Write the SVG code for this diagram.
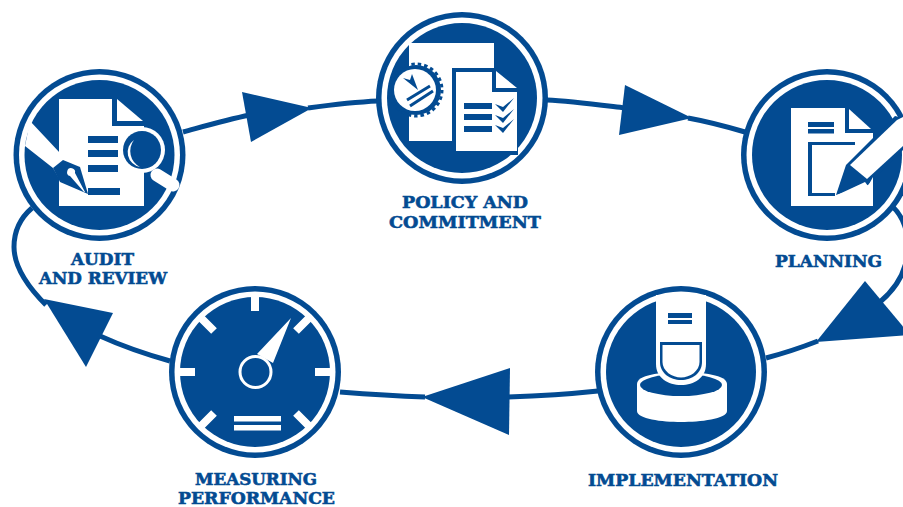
<svg xmlns="http://www.w3.org/2000/svg" width="903" height="507" viewBox="0 0 903 507">
<style>
.l{font-family:"DejaVu Serif","Liberation Serif",serif;font-weight:bold;font-size:17px;fill:#034b92;stroke:#034b92;stroke-width:.6;text-anchor:middle}
.b{fill:#034b92}.w{fill:#fff}
.c{fill:none;stroke:#034b92;stroke-width:5}
.ws{fill:none;stroke:#fff}
</style>
<defs>
<g id="ring"><circle r="86" class="b"/><circle r="80.5" class="w"/><circle r="75" class="b"/></g>
</defs>
<rect width="903" height="507" fill="#fff"/>
<g id="connectors">
<path class="c" d="M183,132C205,126 225,120 250,115M308,108C330,105 355,102 378,101"/>
<polygon class="b" points="242,92 312,108 251,142"/>
<path class="c" d="M547,100C570,101 600,105 625,108M688,118C710,122 728,127 745,132"/>
<polygon class="b" points="625,85 692,118 619,135"/>
<path class="c" d="M893,207C912,225 918,270 880,302"/>
<path class="c" d="M818,341C800,348 785,353 766,358"/>
<polygon class="b" points="865,281 910,335 816,342"/>
<path class="c" d="M598,391C570,394 540,396 505,397M425,397C395,396 365,394 340,392"/>
<polygon class="b" points="510,368 509,435 422,397"/>
<path class="c" d="M170,361C145,354 122,346 100,336"/>
<polygon class="b" points="113,313 86,367 44,299"/>
<path class="c" d="M32,208C18,220 14,235 14,247C14,265 27,286 46,305"/>
</g>
<g id="audit" transform="translate(99.5,155)">
<use href="#ring"/>
<g transform="translate(-99.5,-155)">
<polygon class="w" points="59,99 112,99 112,126 144,126 144,206 59,206"/>
<polygon class="w" points="117,99 143,121 117,121"/>
<path class="b" d="M88,136h30v7h-30zM88,150h30v7h-30zM88,165h30v7h-30zM88,188h32v7h-32z"/>
<polygon class="w" points="30,121 60,153 60,180 53,168 25,146"/>
<path class="ws" stroke-width="13" stroke-linecap="round" d="M157,175L173,185"/>
<circle cx="142" cy="150" r="23" class="w"/>
<circle cx="142" cy="150" r="19" class="b"/>
<path class="w" d="M134,140A15,15 0 0 0 140,167A18,18 0 0 1 134,140Z"/>
<polygon class="b" points="63,160 80,167 88,194 60,182 53,168"/>
<path class="w" d="M70,176a4,4 0 1 1 5,-3l10,19l-1,0Z"/>
</g>
</g>
<g id="policy" transform="translate(462,98)">
<use href="#ring"/>
<g transform="translate(-462,-98)">
<rect x="409" y="43" width="85" height="98" class="w"/>
<polygon class="b" points="452,68 494,68 494,88 518,88 518,155 452,155"/>
<polygon class="w" points="456,72 492,72 492,92 517,92 517,151 456,151"/>
<polygon class="w" points="496,71 517,88 496,88"/>
<path class="b" d="M464,103h28v6h-28zM464,114h28v6h-28zM464,126h28v6h-28z"/>
<polygon class="b" points="495,104 503,107 514,98 503,112"/>
<polygon class="b" points="495,115 503,118 514,109 503,123"/>
<polygon class="b" points="495,125 503,128 514,119 503,133"/>
<circle cx="416" cy="90" r="25" class="b"/>
<circle cx="416" cy="90" r="26" fill="none" stroke="#034b92" stroke-width="3" stroke-dasharray="3.500 3"/>
<circle cx="415" cy="90" r="21" class="w"/>
<polygon class="b" points="403,78 410,80 412,74 418,90"/>
<path stroke="#034b92" stroke-width="3" d="M407,100L430,86M410,106L433,91"/>
</g>
</g>
<g id="planning" transform="translate(827,155)">
<use href="#ring"/>
<g transform="translate(-827,-155)">
<polygon class="w" points="791,108 845,108 845,133 873,133 873,206 791,206"/>
<polygon class="w" points="849,109 871,129 849,129"/>
<path class="b" d="M808,122h26v5h-26zM808,129h26v4.500h-26zM808,142h47v3h-47zM808,142h4v54h-4zM808,193h27v3h-27z"/>
<polygon class="b" points="836,195 846,165 895,116 903,118 903,150 868,185"/>
<polygon class="w" points="850,165 897,120 903,117 903,146 867,179"/>
<polygon class="w" points="837,195 865,182 868,186 873,177 873,192 840,196"/>
</g>
</g>
<g id="implementation" transform="translate(681,372)">
<use href="#ring"/>
<g transform="translate(-681,-372)">
<path class="w" d="M637,384C637,375 660,372 681,372S727,375 727,384V411C727,419 700,422 681,422S637,419 637,411Z"/>
<ellipse cx="681" cy="385" rx="41" ry="11" class="b"/>
<path class="w" d="M656,295H706V364C706,378 694,385 681,385S656,378 656,364Z"/>
<path class="b" d="M660,342H702V362C702,373 692,380 681,380S660,373 660,362Z"/>
<path class="w" d="M662.500,345H699.500V362C699.500,371 690,377.500 681,377.500S662.500,371 662.500,362Z"/>
<path class="b" d="M668,313h24v5h-24zM668,320h24v4h-24z"/>
</g>
</g>
<g id="measuring" transform="translate(255,372)">
<use href="#ring"/>
<g transform="translate(-255,-372)">
<path class="w" d="M251,295h8v16h-8zM179,368h16v8h-16zM315,368h16v8h-16z"/>
<path class="ws" stroke-width="8" d="M201,318L214,331M309,318L296,331M201,426L214,413M309,426L296,413"/>
<polygon class="w" points="291,318 273,363 257,354"/>
<circle cx="255.500" cy="372" r="15.500" class="b" stroke="#fff" stroke-width="3"/>
<path class="w" d="M234,416h47v5.500h-47zM234,425h47v5.500h-47z"/>
</g>
</g>
<g id="labels">
<text class="l" x="465" y="208" textLength="126" lengthAdjust="spacingAndGlyphs">POLICY AND</text>
<text class="l" x="465" y="228" textLength="152" lengthAdjust="spacingAndGlyphs">COMMITMENT</text>
<text class="l" x="828.500" y="267" textLength="107" lengthAdjust="spacingAndGlyphs">PLANNING</text>
<text class="l" x="102.500" y="265" textLength="63" lengthAdjust="spacingAndGlyphs">AUDIT</text>
<text class="l" x="103" y="284" textLength="128" lengthAdjust="spacingAndGlyphs">AND REVIEW</text>
<text class="l" x="683" y="486" textLength="190" lengthAdjust="spacingAndGlyphs">IMPLEMENTATION</text>
<text class="l" x="256" y="485" textLength="122" lengthAdjust="spacingAndGlyphs">MEASURING</text>
<text class="l" x="256.500" y="504" textLength="157" lengthAdjust="spacingAndGlyphs">PERFORMANCE</text>
</g>
</svg>
